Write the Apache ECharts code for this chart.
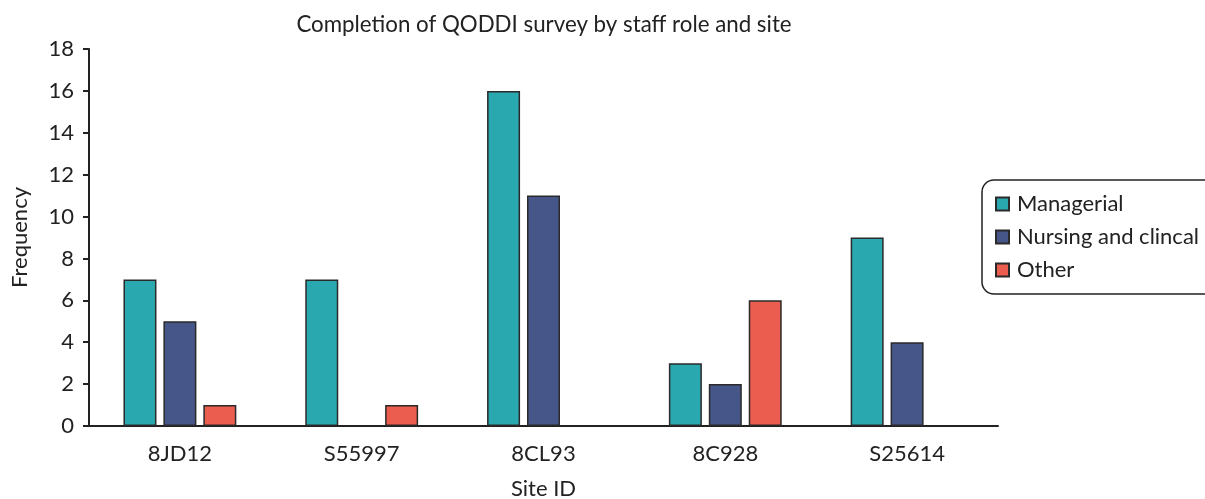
<!DOCTYPE html>
<html>
<head>
<meta charset="utf-8">
<script src="https://cdn.jsdelivr.net/npm/echarts@6/dist/echarts.min.js"></script>
<style>
  html, body { margin: 0; padding: 0; background: #fff; }
  #chart { width: 1205px; height: 499px; }
</style>
</head>
<body>
<div id="chart"></div>
<script>
// Survey completions per site, split by staff role
const sites = ['8JD12', 'S55997', '8CL93', '8C928', 'S25614'];
const managerial = [7, 7, 16, 3, 9];
const nursingClinical = [5, 0, 11, 2, 4];
const other = [1, 1, 0, 6, 0];
const yTicks = [0, 2, 4, 6, 8, 10, 12, 14, 16, 18];

const FONT = 'Lato, "Open Sans", sans-serif';
const INK = '#222222';

// Empty counts are left out rather than drawn as flat bars
const toBars = arr => arr.map(v => (v === 0 ? null : v));

function barSeries(name, data, color) {
  return {
    name: name,
    type: 'bar',
    data: toBars(data),
    barWidth: 33,
    barGap: '21%',
    itemStyle: { color: color, borderColor: '#2a2a2a', borderWidth: 1.5 }
  };
}

const chart = echarts.init(document.getElementById('chart'), null, { renderer: 'canvas' });
chart.setOption({
  animation: false,
  backgroundColor: '#ffffff',
  textStyle: { fontFamily: FONT, color: INK },
  title: {
    text: 'Completion of QODDI survey by staff role and site',
    left: 539,
    textAlign: 'center',
    top: 9,
    textStyle: { fontFamily: FONT, fontWeight: 'normal', fontSize: 22.3, color: INK }
  },
  legend: {
    orient: 'vertical',
    left: 982,
    top: 180,
    padding: [13, 40, 13, 13],
    itemWidth: 13,
    itemHeight: 13,
    itemGap: 11,
    icon: 'rect',
    borderColor: '#222',
    borderWidth: 1.5,
    borderRadius: 12,
    textStyle: { fontFamily: FONT, fontSize: 22, color: INK, lineHeight: 22, padding: [0, 0, 0, 3] },
    data: ['Managerial', 'Nursing and clincal', 'Other']
  },
  grid: { left: 89, right: 207, top: 49, bottom: 73, containLabel: false, outerBoundsMode: 'none' },
  xAxis: {
    type: 'category',
    data: sites,
    name: 'Site ID',
    nameLocation: 'middle',
    nameGap: 52,
    nameTextStyle: { fontFamily: FONT, fontSize: 22, color: INK },
    axisLine: { lineStyle: { color: INK, width: 2 } },
    axisTick: { alignWithLabel: true, length: 6, lineStyle: { color: INK, width: 2 } },
    axisLabel: { fontFamily: FONT, fontSize: 22, color: INK, margin: 17 }
  },
  yAxis: {
    type: 'value',
    min: yTicks[0],
    max: yTicks[yTicks.length - 1],
    interval: 2,
    name: 'Frequency',
    nameLocation: 'middle',
    nameGap: 58,
    nameTextStyle: { fontFamily: FONT, fontSize: 22, color: INK },
    axisLine: { show: true, lineStyle: { color: INK, width: 2 } },
    axisTick: { show: true, length: 6, lineStyle: { color: INK, width: 2 } },
    axisLabel: { fontFamily: FONT, fontSize: 22, color: INK, margin: 15 },
    splitLine: { show: false }
  },
  series: [
    barSeries('Managerial', managerial, '#2aa8af'),
    barSeries('Nursing and clincal', nursingClinical, '#465688'),
    barSeries('Other', other, '#eb5d4f')
  ]
});
</script>
</body>
</html>
